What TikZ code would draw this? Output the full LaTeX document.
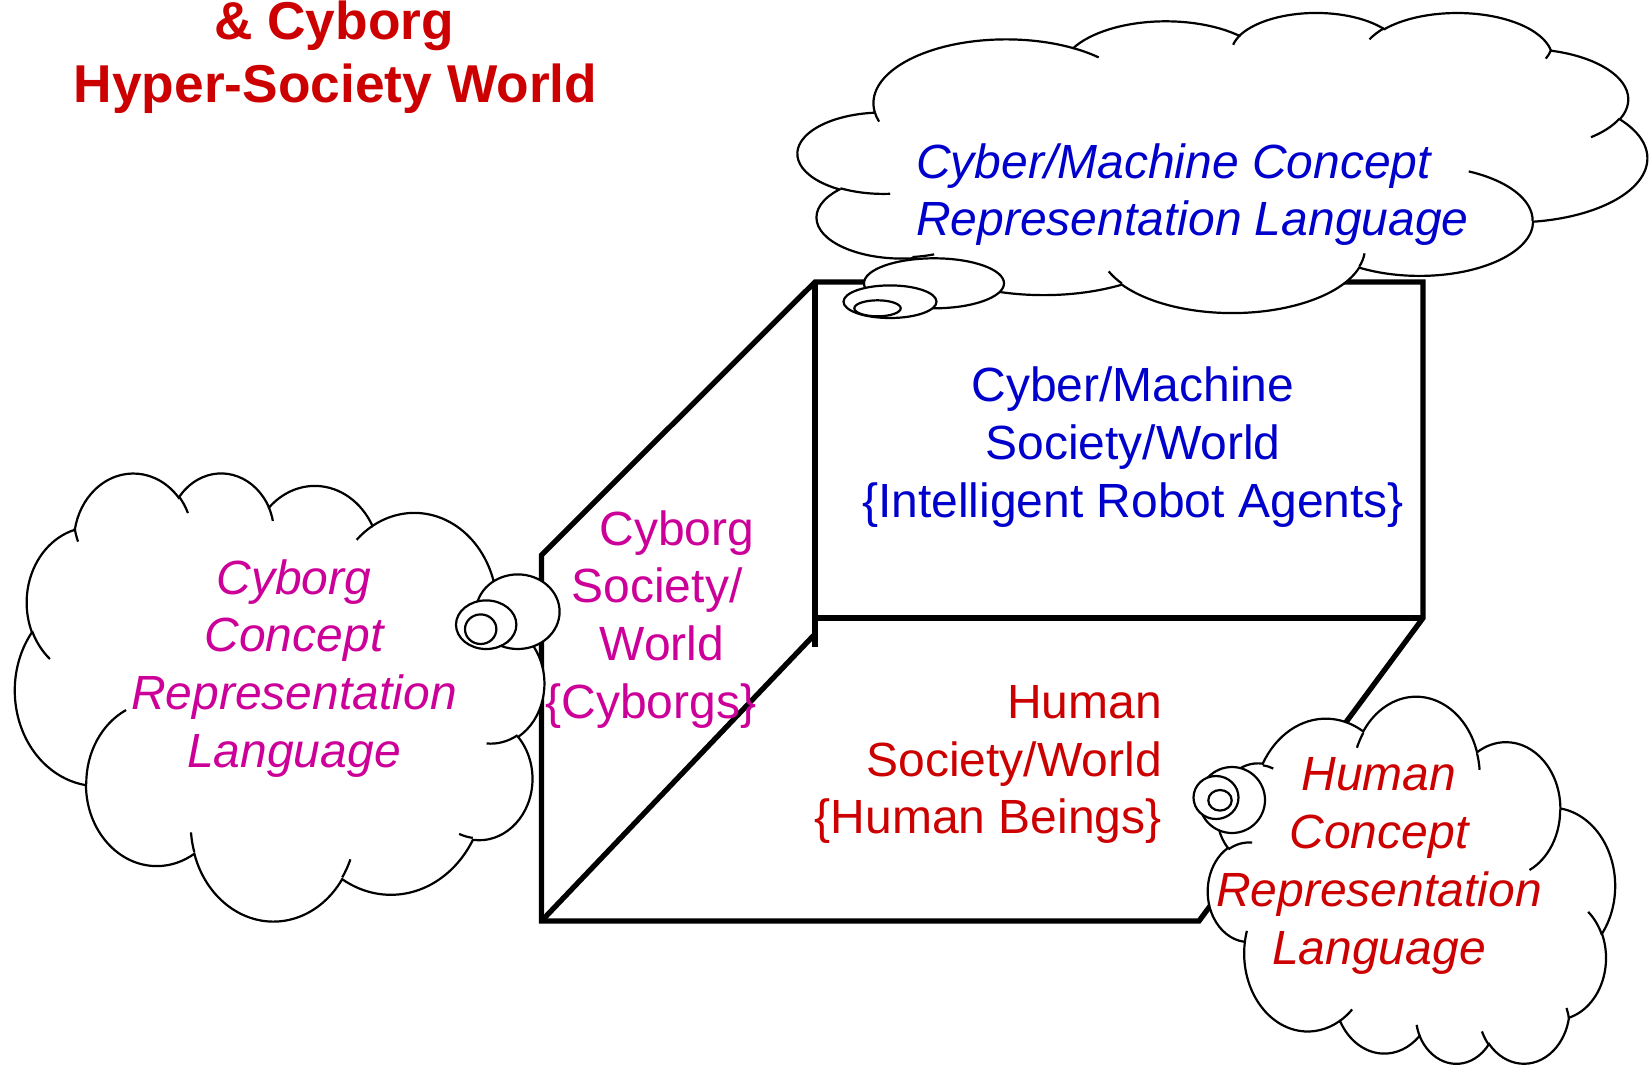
\documentclass[tikz,border=0pt]{standalone}
\usepackage{fontspec}
\setmainfont{Liberation Sans}
\definecolor{tblue}{RGB}{0,0,204}
\definecolor{tmag}{RGB}{204,0,153}
\definecolor{tred}{RGB}{204,0,0}
\tikzset{
  cloudshape/.style={insert path={(9.028,33.264)
    arc[start angle=-187.75,end angle=-59.64,x radius=15.632,y radius=21.273]
    arc[start angle=-152.05,end angle=-45.44,x radius=12.345,y radius=16.822]
    arc[start angle=-153.50,end angle=-37.35,x radius=10.104,y radius=13.762]
    arc[start angle=-139.71,end angle=-10.21,x radius=11.243,y radius=15.266]
    arc[start angle=-74.77,end angle=23.21,x radius=12.345,y radius=16.836]
    arc[start angle=-37.53,end angle=81.86,x radius=15.683,y radius=21.343]
    arc[start angle=0.46,end angle=121.98,x radius=13.391,y radius=18.211]
    arc[start angle=16.84,end angle=146.22,x radius=15.630,y radius=21.331]
    arc[start angle=58.98,end angle=150.19,x radius=17.870,y radius=24.405]
    arc[start angle=-276.69,end angle=-136.89,x radius=10.093,y radius=13.699]
    arc[start angle=-239.65,end angle=-95.89,x radius=10.058,y radius=13.762]
    -- cycle}},
  cloudinner/.style={insert path={
    (10.863,60.595) arc[start angle=85.55,end angle=120.35,x radius=10.058,y radius=13.762]
    (16.037,80.785) arc[start angle=68.24,end angle=83.31,x radius=10.093,y radius=13.699]
    (38.144,90.486) arc[start angle=146.22,end angle=158.48,x radius=15.630,y radius=21.331]
    (66.729,80.442) arc[start angle=4.74,end angle=16.84,x radius=15.630,y radius=21.331]
    (79.002,53.134) arc[start angle=-64.03,end angle=0.46,x radius=13.391,y radius=18.211]
    (96.755,35.542) arc[start angle=23.21,end angle=49.65,x radius=12.345,y radius=16.836]
    (88.713,12.560) arc[start angle=10.21,end angle=21.88,x radius=11.243,y radius=15.266]
    (67.310,9.148) arc[start angle=-156.29,end angle=-139.71,x radius=11.243,y radius=15.266]
    (51.252,10.926) arc[start angle=-167.73,end angle=-153.50,x radius=10.104,y radius=13.762]
    (32.407,12.019) arc[start angle=-59.64,end angle=-45.72,x radius=15.632,y radius=21.273]
    (9.553,36.549) arc[start angle=163.19,end angle=172.25,x radius=15.632,y radius=21.273]
    }},
  cloudbody/.style={draw=black, fill=white, line width=2.2pt},
  cloudstroke/.style={draw=black, line width=2.2pt},
  bubble/.style={draw=black, fill=white, line width=2.2pt},
  boxline/.style={draw=black, line width=5.3pt, line join=miter},
  lbl/.style={inner sep=0pt, font=\fontsize{48}{58}\selectfont},
  ilbl/.style={inner sep=0pt, font=\fontsize{48}{58}\selectfont\itshape},
  ttl/.style={inner sep=0pt, text=tred, font=\fontsize{53.3}{64}\selectfont\bfseries},
}
\begin{document}
\begin{tikzpicture}[x=1pt,y=-1pt]
\fill[white] (0,0) rectangle (1650,1066);
\useasboundingbox (0,0) rectangle (1650,1066);

% title
\node[ttl, anchor=base] (title1) at (334,39) {\& Cyborg};
\node[ttl, anchor=base] (title2) at (335.5,102.7) {Hyper-Society World};

% box corners
\coordinate (BL) at (541.5,921);
\coordinate (OL) at (541.5,555);
\coordinate (TL) at (815,282);
\coordinate (TR) at (1423,282);
\coordinate (MR) at (1423,618);
\coordinate (FR) at (1199,921);
\coordinate (ML) at (815,618);
\coordinate (VB) at (815,647);
\coordinate (DS) at (815,634);

\draw[boxline] (BL) -- (OL) -- (TL) -- (TR) -- (MR) -- (FR) -- cycle;
\draw[boxline] (TL) -- (VB);
\draw[boxline] (ML) -- (MR);
\draw[boxline] (DS) -- (BL);

% box texts
\node[lbl, text=tblue, anchor=base] (cm1) at (1133,401) {Cyber/Machine};
\node[lbl, text=tblue, anchor=base] (cm2) at (1133,459) {Society/World};
\node[lbl, text=tblue, anchor=base] (cm3) at (1133,517) {\{Intelligent Robot Agents\}};

\node[lbl, text=tmag, anchor=base] (cy1) at (677,545) {Cyborg};
\node[lbl, text=tmag, anchor=base] (cy2) at (657,602.5) {Society/};
\node[lbl, text=tmag, anchor=base] (cy3) at (662,660) {World};
\node[lbl, text=tmag, anchor=base] (cy4) at (651,718) {\{Cyborgs\}};

\node[lbl, text=tred, anchor=base east] (hu1) at (1162,718) {Human};
\node[lbl, text=tred, anchor=base east] (hu2) at (1162,776) {Society/World};
\node[lbl, text=tred, anchor=base east] (hu3) at (1162,833) {\{Human Beings\}};

% cloud 1 (top right)
\begin{scope}[shift={(798pt,-12pt)}, x={(8.49pt,0pt)}, y={(0pt,-3pt)}]
\path[cloudbody, cloudshape];
\path[cloudstroke, cloudinner];
\end{scope}
\draw[bubble] (934,283.3) ellipse [x radius=70, y radius=25];
\draw[bubble] (890,301.7) ellipse [x radius=46.5, y radius=16.3];
\draw[bubble] (877.5,308.3) ellipse [x radius=23.2, y radius=8];

% cloud 2 (left, mirrored)
\begin{scope}[shift={(544pt,-472pt)}, x={(-5.29pt,0pt)}, y={(0pt,-4.48pt)}]
\path[cloudbody, cloudshape];
\path[cloudstroke, cloudinner];
\end{scope}
\draw[bubble] (517.8,611.7) ellipse [x radius=41.8, y radius=37.3];
\draw[bubble] (486.2,624.7) ellipse [x radius=30.2, y radius=24.3];
\draw[bubble] (480.7,629.2) ellipse [x radius=15.7, y radius=14.8];

% cloud 3 (bottom right, flipped vertically)
\begin{scope}[shift={(1208pt,-1065pt)}, x={(4.07pt,0pt)}, y={(0pt,3.67pt)}]
\path[cloudbody, cloudshape];
\path[cloudstroke, cloudinner];
\end{scope}
\draw[bubble] (1232,800) ellipse [x radius=33, y radius=33];
\draw[bubble] (1216,797.5) ellipse [x radius=22.5, y radius=21.5];
\draw[bubble] (1220,800.3) ellipse [x radius=11.7, y radius=10.3];

% cloud texts
\node[ilbl, text=tblue, anchor=base west] (k1a) at (916,178.3) {Cyber/Machine Concept};
\node[ilbl, text=tblue, anchor=base west] (k1b) at (916,235) {Representation Language};

\node[ilbl, text=tmag, anchor=base] (k2a) at (294,594) {Cyborg};
\node[ilbl, text=tmag, anchor=base] (k2b) at (294,651) {Concept};
\node[ilbl, text=tmag, anchor=base] (k2c) at (294,709) {Representation};
\node[ilbl, text=tmag, anchor=base] (k2d) at (294,767) {Language};

\node[ilbl, text=tred, anchor=base] (k3a) at (1379,790) {Human};
\node[ilbl, text=tred, anchor=base] (k3b) at (1379,848) {Concept};
\node[ilbl, text=tred, anchor=base] (k3c) at (1379,906) {Representation};
\node[ilbl, text=tred, anchor=base] (k3d) at (1379,964) {Language};
\end{tikzpicture}
\end{document}
